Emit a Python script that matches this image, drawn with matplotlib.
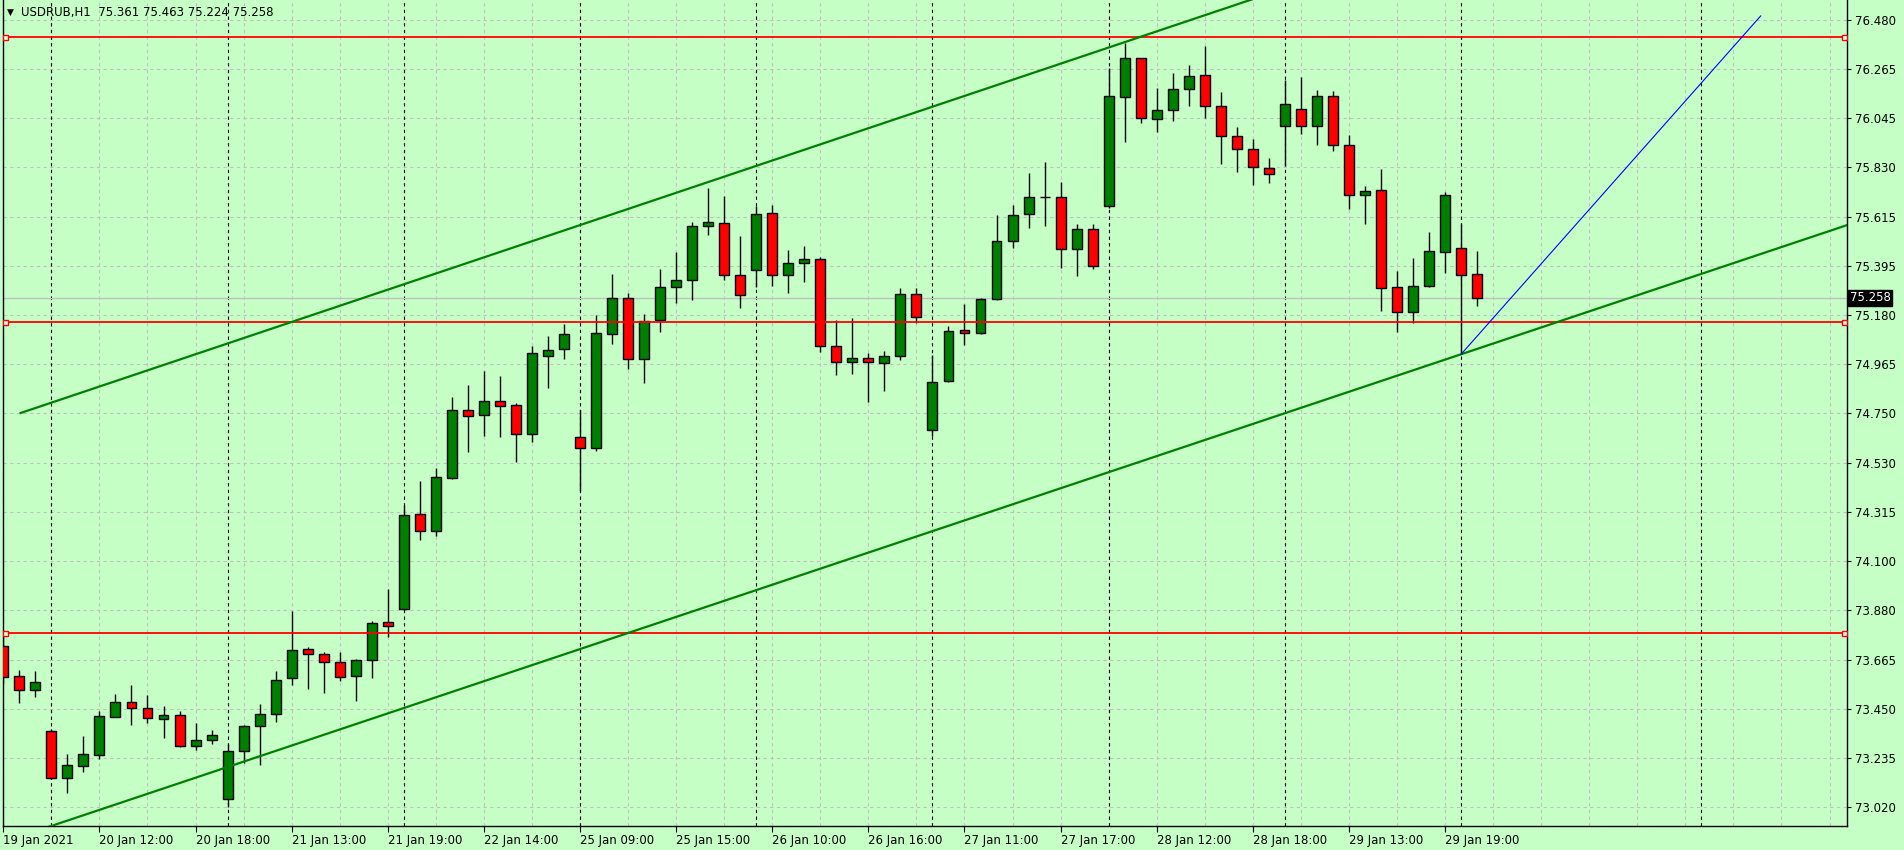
import matplotlib
matplotlib.use("Agg")
import matplotlib.pyplot as plt
from matplotlib.patches import Rectangle
from matplotlib.transforms import blended_transform_factory
import numpy as np

BG     = "#C6FFC6"
BULL   = "#008000"
BEAR   = "#FF0000"
GRID   = "#C0C0C0"
TREND  = "#008000"
LEVEL  = "#FF0000"
RAY    = "#0000FF"

# ── DATA: USDRUB H1 candles ─────────────────────────────────────────────────
opens = [73.727, 73.596, 73.534, 73.354, 73.148, 73.200, 73.249, 73.418, 73.481, 73.455,
         73.407, 73.424, 73.288, 73.314, 73.055, 73.266, 73.376, 73.429, 73.587, 73.714,
         73.692, 73.657, 73.596, 73.666, 73.833, 73.892, 74.307, 74.235, 74.468, 74.764,
         74.742, 74.803, 74.786, 74.661, 75.001, 75.032, 74.645, 74.597, 75.098, 75.256,
         74.988, 75.159, 75.304, 75.335, 75.572, 75.585, 75.357, 75.379, 75.629, 75.357,
         75.409, 75.427, 75.045, 74.975, 74.992, 74.970, 75.001, 75.273, 74.676, 74.891,
         75.115, 75.102, 75.251, 75.506, 75.625, 75.699, 75.699, 75.471, 75.559, 75.660,
         76.138, 76.310, 76.042, 76.081, 76.173, 76.235, 76.099, 75.967, 75.910, 75.827,
         76.011, 76.086, 76.011, 76.143, 75.928, 75.708, 75.730, 75.304, 75.194, 75.308,
         75.458, 75.475, 75.361]
highs = [73.791, 73.623, 73.619, 73.362, 73.254, 73.333, 73.443, 73.518, 73.557, 73.513,
         73.465, 73.443, 73.390, 73.360, 73.298, 73.380, 73.474, 73.619, 73.882, 73.723,
         73.701, 73.701, 73.670, 73.837, 73.978, 74.347, 74.453, 74.509, 74.822, 74.875,
         74.936, 74.913, 74.794, 75.046, 75.090, 75.143, 74.764, 75.181, 75.361, 75.278,
         75.185, 75.383, 75.458, 75.589, 75.739, 75.705, 75.528, 75.660, 75.664, 75.468,
         75.484, 75.438, 75.159, 75.168, 75.015, 75.024, 75.301, 75.301, 75.005, 75.133,
         75.231, 75.256, 75.620, 75.664, 75.805, 75.853, 75.765, 75.581, 75.581, 76.266,
         76.375, 76.311, 76.178, 76.244, 76.279, 76.362, 76.160, 76.007, 75.954, 75.870,
         76.213, 76.226, 76.169, 76.165, 75.971, 75.748, 75.822, 75.376, 75.431, 75.545,
         75.721, 75.581, 75.463]
lows = [73.565, 73.480, 73.506, 73.145, 73.084, 73.177, 73.234, 73.416, 73.383, 73.392,
        73.326, 73.284, 73.273, 73.298, 73.023, 73.213, 73.207, 73.396, 73.559, 73.541,
        73.524, 73.576, 73.488, 73.589, 73.767, 73.887, 74.195, 74.213, 74.461, 74.582,
        74.652, 74.648, 74.538, 74.626, 74.863, 74.990, 74.411, 74.586, 75.056, 74.946,
        74.885, 75.106, 75.236, 75.249, 75.535, 75.335, 75.214, 75.304, 75.308, 75.280,
        75.329, 75.018, 74.920, 74.925, 74.801, 74.850, 74.986, 75.146, 74.650, 74.887,
        75.052, 75.100, 75.249, 75.478, 75.563, 75.572, 75.391, 75.352, 75.383, 75.651,
        75.943, 76.027, 75.985, 76.033, 76.099, 76.046, 75.844, 75.809, 75.752, 75.763,
        75.835, 75.976, 75.928, 75.901, 75.646, 75.581, 75.199, 75.106, 75.146, 75.304,
        75.365, 75.010, 75.224]
closes = [73.591, 73.534, 73.569, 73.148, 73.205, 73.253, 73.420, 73.481, 73.455, 73.411,
          73.424, 73.288, 73.314, 73.336, 73.266, 73.376, 73.429, 73.578, 73.710, 73.692,
          73.657, 73.591, 73.666, 73.828, 73.815, 74.303, 74.235, 74.470, 74.764, 74.737,
          74.803, 74.781, 74.661, 75.014, 75.027, 75.098, 74.597, 75.102, 75.256, 74.988,
          75.155, 75.304, 75.335, 75.572, 75.589, 75.357, 75.269, 75.625, 75.357, 75.409,
          75.427, 75.045, 74.975, 74.992, 74.975, 75.001, 75.273, 75.172, 74.887, 75.111,
          75.102, 75.251, 75.506, 75.620, 75.699, 75.699, 75.474, 75.559, 75.396, 76.143,
          76.310, 76.046, 76.081, 76.173, 76.231, 76.099, 75.967, 75.910, 75.831, 75.800,
          76.108, 76.011, 76.143, 75.928, 75.708, 75.726, 75.300, 75.194, 75.308, 75.462,
          75.708, 75.357, 75.258]

time_labels = ["19 Jan 2021", "20 Jan 12:00", "20 Jan 18:00", "21 Jan 13:00",
               "21 Jan 19:00", "22 Jan 14:00", "25 Jan 09:00", "25 Jan 15:00",
               "26 Jan 10:00", "26 Jan 16:00", "27 Jan 11:00", "27 Jan 17:00",
               "28 Jan 12:00", "28 Jan 18:00", "29 Jan 13:00", "29 Jan 19:00"]
price_labels = ["73.020", "73.235", "73.450", "73.665", "73.880", "74.100", "74.315",
                "74.530", "74.750", "74.965", "75.180", "75.395", "75.615", "75.830",
                "76.045", "76.265", "76.480"]
day_starts = [3, 14, 25, 36, 47, 58, 69, 80, 91, 106]

# chart objects (bar index, price)
levels      = [76.404, 75.153, 73.784]
lower_chan  = ([3.12, 91.0], [72.941, 75.010])
upper_chan  = ([1.08, 78.0], [74.752, 76.570])
blue_ray    = ([91.0, 109.7], [75.010, 76.496])
last_price  = closes[-1]

# ── FIGURE ──────────────────────────────────────────────────────────────────
fig = plt.figure(figsize=(19.04, 8.5), dpi=100)
fig.patch.set_facecolor(BG)
ax = fig.add_axes([3 / 1904, 24 / 850, 1844 / 1904, 826 / 850])
ax.set_facecolor(BG)

XMIN, XMAX = -0.02, 115.09
YMIN, YMAX = 72.938, 76.566
ax.set_xlim(XMIN, XMAX)
ax.set_ylim(YMIN, YMAX)

# grid
ytick_pos = np.linspace(73.020, 76.480, len(price_labels))
for y in ytick_pos:
    ax.axhline(y, color=GRID, lw=0.8, ls=(0, (3, 3)), zorder=0)
for x in range(0, 116, 3):
    ax.axvline(x, color=GRID, lw=0.8, ls=(0, (3, 3)), zorder=0)
for x in day_starts:
    ax.axvline(x, color="black", lw=0.8, ls=(0, (3, 3)), zorder=0.5)

ax.axhline(last_price, color=GRID, lw=1, zorder=0.8)

# candles
w = 0.62
for i, (o, h, l, c) in enumerate(zip(opens, highs, lows, closes)):
    ax.vlines(i, l, h, color="black", lw=1, zorder=2)
    if o == c:
        ax.hlines(o, i - w / 2, i + w / 2, color="black", lw=1, zorder=3)
        continue
    fc = BULL if c > o else BEAR
    ax.add_patch(Rectangle((i - w / 2, min(o, c)), w, abs(c - o),
                           facecolor=fc, edgecolor="black", lw=1, zorder=3))

# horizontal levels with anchor squares
for lv in levels:
    ax.axhline(lv, color=LEVEL, lw=1.3, zorder=4)
    ax.plot([0.1, 114.9], [lv, lv], ls="none", marker="s", ms=3.6,
            mfc="white", mec=LEVEL, mew=1, zorder=5)

# trend lines (rays to the right)
def extend(pts, x0, x1):
    xs, ys = pts
    k = (ys[1] - ys[0]) / (xs[1] - xs[0])
    return [x0, x1], [ys[0] + k * (x0 - xs[0]), ys[0] + k * (x1 - xs[0])]

lx, ly = extend(lower_chan, XMIN - 5, XMAX + 5)
ax.plot(lx, ly, color=TREND, lw=1.6, zorder=4)
ux, uy = extend(upper_chan, upper_chan[0][0], XMAX + 5)
ax.plot(ux, uy, color=TREND, lw=1.6, zorder=4)
ax.plot(blue_ray[0], blue_ray[1], color=RAY, lw=0.8, zorder=4)

# axes styling
ax.spines["top"].set_visible(False)
for s in ("left", "right", "bottom"):
    ax.spines[s].set_color("black")
    ax.spines[s].set_linewidth(1)

ax.yaxis.tick_right()
ax.set_yticks(ytick_pos)
ax.set_yticklabels(price_labels)
ax.tick_params(axis="y", length=3, pad=3, labelsize=8.5, colors="black")

ax.set_xticks(range(0, 6 * len(time_labels), 6))
ax.set_xticklabels(time_labels)
ax.tick_params(axis="x", length=4, pad=2, labelsize=8.5, colors="black")
for lbl in ax.get_xticklabels():
    lbl.set_horizontalalignment("left")

# last price box
tr = blended_transform_factory(ax.transAxes, ax.transData)
ax.text(1.0015, last_price, f"{last_price:.3f}", transform=tr, color="white",
        fontsize=8.5, va="center", ha="left",
        bbox=dict(facecolor="black", edgecolor="black", pad=1.2), zorder=6,
        clip_on=False)

# header
fig.text(7 / 1904, 1 - 12.5 / 850, "▼", fontsize=6.5, va="center", ha="left")
fig.text(21 / 1904, 1 - 12.5 / 850,
         "USDRUB,H1  75.361 75.463 75.224 75.258",
         fontsize=8.5, va="center", ha="left")

fig.savefig("out.png", dpi=100, facecolor=fig.get_facecolor())
